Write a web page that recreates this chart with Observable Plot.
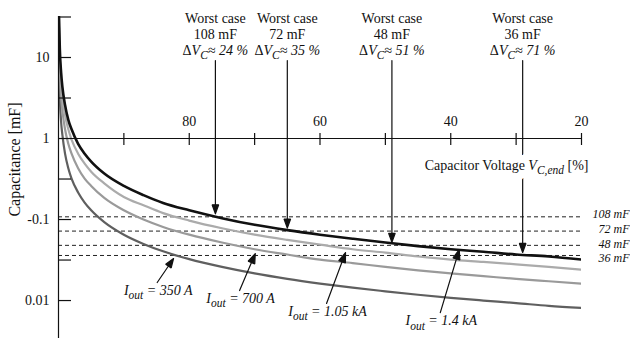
<!DOCTYPE html>
<html>
<head>
<meta charset="utf-8">
<script src="https://cdn.jsdelivr.net/npm/d3@7"></script>
<script src="https://cdn.jsdelivr.net/npm/@observablehq/plot@0.6"></script>
<style>
  html, body { margin: 0; padding: 0; background: #fff; }
  #chart svg { display: block; }
</style>
</head>
<body>
<div id="chart"></div>
<script>
// End-of-discharge capacitor voltage V_C,end (% of the initial voltage)
const voltage = [99.92, 99.8, 99.6, 99.4, 99, 98.5, 98, 97, 96, 95, 93, 90, 87, 84, 80, 75, 70, 65, 60, 55, 50, 45, 40, 35, 30, 25, 20];

// Required capacitance for each output current (axis units)
const cap1400 = [32, 13, 6.5, 4.3, 2.6, 1.7, 1.3, 0.86, 0.65, 0.52, 0.37, 0.26, 0.2, 0.16, 0.13, 0.104, 0.086, 0.074, 0.065, 0.058, 0.052, 0.047, 0.043, 0.04, 0.037, 0.035, 0.032];
const cap1050 = [24, 9.7, 4.9, 3.2, 1.94, 1.3, 0.97, 0.65, 0.49, 0.39, 0.28, 0.19, 0.15, 0.12, 0.097, 0.078, 0.065, 0.056, 0.049, 0.043, 0.039, 0.035, 0.032, 0.03, 0.028, 0.026, 0.024];
const cap700 = [16, 6.5, 3.2, 2.2, 1.3, 0.86, 0.65, 0.43, 0.32, 0.26, 0.185, 0.13, 0.1, 0.081, 0.065, 0.052, 0.043, 0.037, 0.032, 0.029, 0.026, 0.0236, 0.0216, 0.02, 0.0185, 0.0173, 0.0162];
const cap350 = [8.1, 3.2, 1.6, 1.1, 0.65, 0.43, 0.32, 0.216, 0.162, 0.13, 0.093, 0.065, 0.05, 0.0405, 0.0324, 0.026, 0.0216, 0.0185, 0.0162, 0.0144, 0.013, 0.0118, 0.0108, 0.01, 0.0093, 0.0086, 0.0081];

const currents = ["1.4 kA", "1.05 kA", "700 A", "350 A"];
const curveColors = ["#111111", "#ababab", "#9a9a9a", "#5f5f5f"];
const curveWidths = [2.6, 2.2, 2.2, 2.2];

// Worst-case capacitor banks and the resulting voltage drop
const worstCaseMF = [108, 72, 48, 36];
const worstCaseDrop = [24, 35, 51, 71];
const worstCaseLabelShift = [-2.5, -1.5, -1, 3];

// Callouts naming each curve: label anchor and arrow tip (V %, capacitance)
const calloutTail = [[41.6, 0.0071], [59.0, 0.0092], [72.3, 0.0133], [84.9, 0.0167]];
const calloutTip = [[38.7, 0.0426], [56.1, 0.039], [69.9, 0.038], [82.4, 0.033]];

// Axes
const xTickValues = [90, 80, 70, 60, 50, 40, 30, 20];
const xTickLabels = [80, 60, 40, 20];
const yTickValues = [31.62, 10, 3.162, 1, 0.3162, 0.1, 0.03162, 0.01];
const yLabelValues = [10, 1, 0.1, 0.01];
const yLabelText = ["10", "1", "-0.1", "0.01"];
const xDomain = [100, 20];
const yDomain = [0.0034, 32.07];

const series = [cap1400, cap1050, cap700, cap350];
const rows = currents.map((name, i) => voltage.map((v, j) => ({name, v, c: series[i][j]})));
const worst = worstCaseMF.map((mF, i) => ({mF, drop: worstCaseDrop[i], shift: worstCaseLabelShift[i]}));
const callouts = currents.map((name, i) => ({
  name, tail: calloutTail[i], tip: calloutTip[i]
}));

const ink = "#111";

const plot = Plot.plot({
  width: 630,
  height: 338,
  marginTop: 16,
  marginBottom: 0,
  marginLeft: 58,
  marginRight: 49,
  style: {fontFamily: "'Liberation Serif', 'Times New Roman', serif", fontSize: "14px", background: "#fff", color: ink},
  x: {domain: xDomain, axis: null},
  y: {type: "log", domain: yDomain, axis: null},
  marks: [
    // worst-case capacitance levels
    Plot.ruleY(worstCaseMF, {y: d => d / 1000, stroke: "#222", strokeWidth: 1, strokeDasharray: "4,3"}),
    ...worst.map(w => Plot.text([w], {
      y: d => d.mF / 1000, text: d => `${d.mF} mF`, frameAnchor: "right",
      textAnchor: "end", dx: 48, dy: w.shift, fontStyle: "italic", fontSize: 12
    })),

    // capacitance curves, lightest current drawn first
    ...currents.map((name, i) => i).reverse().map(i =>
      Plot.line(rows[i], {x: "v", y: "c", stroke: curveColors[i], strokeWidth: curveWidths[i], curve: "monotone-x", clip: true})
    ),

    // y axis with inward ticks every half decade
    Plot.ruleX([xDomain[0]], {stroke: ink, strokeWidth: 1.2}),
    Plot.ruleY(yTickValues, {y: d => d, x1: () => xDomain[0], x2: () => xDomain[0], insetLeft: 0, insetRight: -13, stroke: ink, strokeWidth: 1.2}),
    Plot.axisY(yLabelValues, {tickSize: 0, tickPadding: 9, label: null, tickFormat: d => yLabelText[yLabelValues.indexOf(d)]}),
    Plot.text(["Capacitance [mF]"], {frameAnchor: "left", textAnchor: "middle", rotate: -90, dx: -44, dy: -18, fontSize: 16}),

    // x axis drawn through C = 1
    Plot.ruleY([1], {stroke: ink, strokeWidth: 1.2}),
    Plot.ruleX(xTickValues, {x: d => d, y1: () => 1, y2: () => 1, insetTop: 7, insetBottom: 5, stroke: ink, strokeWidth: 1.2}),
    Plot.text(xTickLabels, {x: d => d, y: () => 1, dy: -17, text: d => String(d)}),

    // worst-case callouts
    Plot.arrow(worst, {
      x1: d => 100 - d.drop, x2: d => 100 - d.drop,
      y1: () => yDomain[1], y2: d => d.mF / 1000,
      insetStart: 44, insetEnd: 3, headLength: 12, headAngle: 40,
      stroke: ink, strokeWidth: 1.2
    }),
    Plot.text(worst, {x: d => 100 - d.drop, frameAnchor: "top", dy: -3.5, text: () => "Worst case"}),
    Plot.text(worst, {x: d => 100 - d.drop, frameAnchor: "top", dy: 13, text: d => `${d.mF} mF`}),
    Plot.text(worst, {x: d => 100 - d.drop, frameAnchor: "top", dy: 28.5, text: d => `Δ*V_{C}≈ ${d.drop} %*`}),

    // x axis title, with a white backing that interrupts the arrow behind it
    Plot.text(["Capacitor Voltage *V_{C,end}* [%]"], {x: () => xDomain[1], y: () => 1, textAnchor: "end", dx: 7, dy: 27, fill: "#fff", stroke: "#fff", strokeWidth: 16}),
    Plot.text(["Capacitor Voltage *V_{C,end}* [%]"], {x: () => xDomain[1], y: () => 1, textAnchor: "end", dx: 7, dy: 27}),

    // current callouts
    Plot.arrow(callouts, {
      x1: d => d.tail[0], y1: d => d.tail[1], x2: d => d.tip[0], y2: d => d.tip[1],
      headLength: 13, headAngle: 40, stroke: ink, strokeWidth: 1.2
    }),
    Plot.text(callouts, {x: d => d.tail[0], y: d => d.tail[1], dy: 8, dx: 1, text: d => `*I_{out} = ${d.name}*`})
  ]
});

// Mixed styling inside labels: *...* toggles italic, _{...} is a subscript
function setRichText(el) {
  const src = el.textContent;
  if (!/[*]|_\{/.test(src)) return;
  const ns = "http://www.w3.org/2000/svg";
  while (el.firstChild) el.removeChild(el.firstChild);
  let italic = false, shift = 0, buf = "", i = 0;
  const flush = (sub) => {
    if (!buf) return;
    const t = document.createElementNS(ns, "tspan");
    t.textContent = buf;
    t.setAttribute("font-style", italic ? "italic" : "normal");
    const target = sub ? 4.5 : 0;
    if (target !== shift) { t.setAttribute("dy", target - shift); shift = target; }
    if (sub) t.setAttribute("font-size", "0.82em");
    el.appendChild(t);
    buf = "";
  };
  while (i < src.length) {
    const ch = src[i];
    if (ch === "*") { flush(false); italic = !italic; i++; }
    else if (ch === "_" && src[i + 1] === "{") {
      flush(false);
      const end = src.indexOf("}", i);
      buf = src.slice(i + 2, end);
      flush(true);
      i = end + 1;
    } else { buf += ch; i++; }
  }
  flush(false);
}
plot.querySelectorAll("text").forEach(setRichText);

// Solid arrowheads
plot.querySelectorAll('g[aria-label="arrow"] path').forEach(p => {
  p.setAttribute("d", p.getAttribute("d") + "Z");
  p.setAttribute("fill", ink);
});

document.getElementById("chart").appendChild(plot);
</script>
</body>
</html>
